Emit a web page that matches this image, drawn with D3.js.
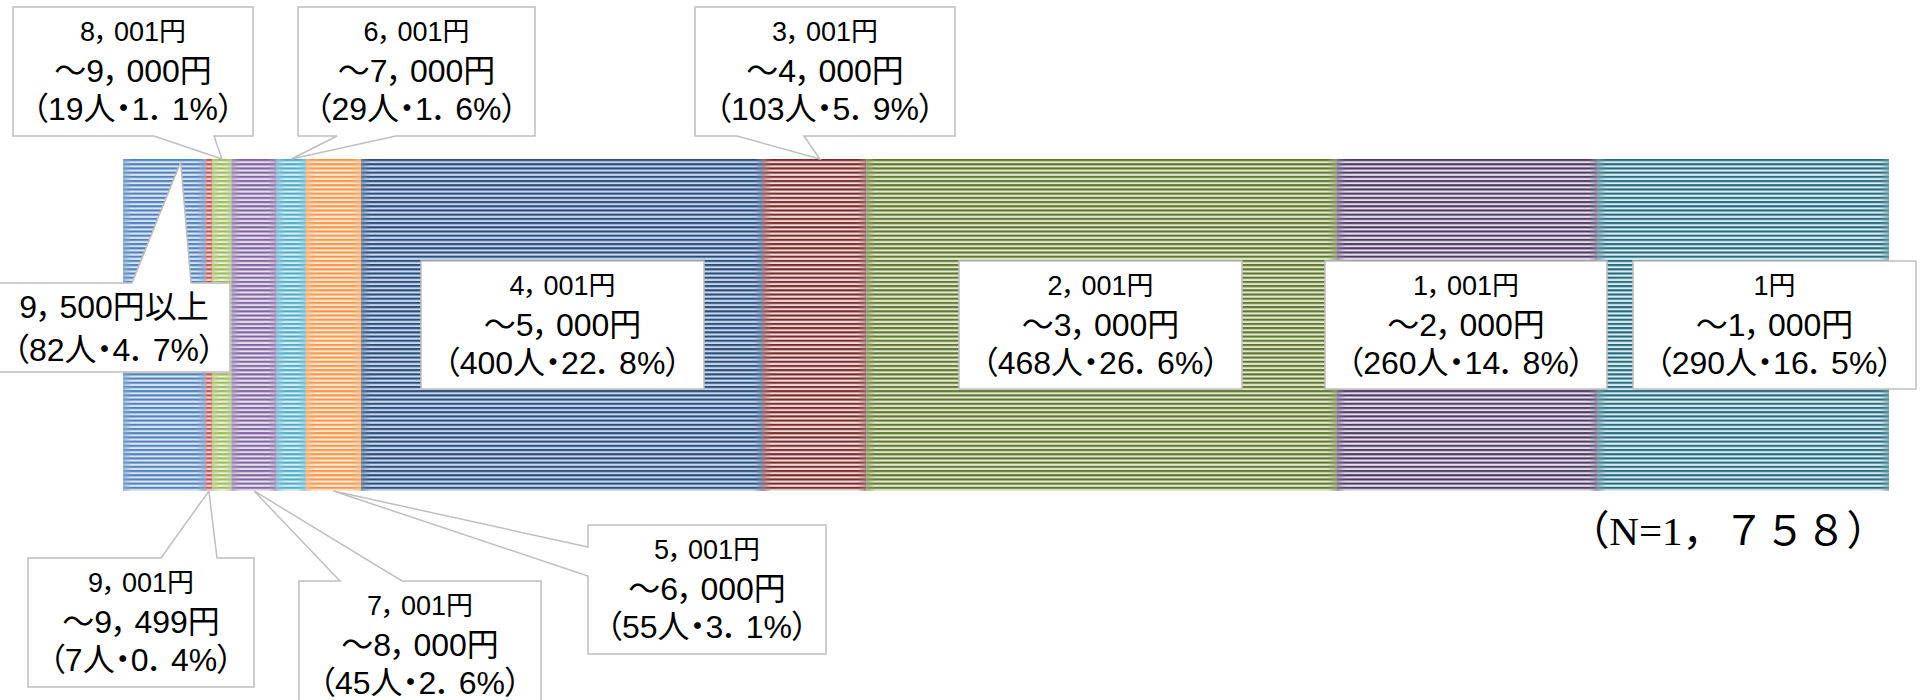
<!DOCTYPE html>
<html>
<head>
<meta charset="utf-8">
<script src="https://cdn.jsdelivr.net/npm/d3@7"></script>
<style>
body { margin: 0; background: #fff; }
svg { display: block; }
.palt { font-feature-settings: "palt" 1; }
</style>
</head>
<body>
<svg></svg>
<script>
// values, left to right
const rangeFrom = ['9，500円以上', '9，001円', '8，001円', '7，001円', '6，001円', '5，001円', '4，001円', '3，001円', '2，001円', '1，001円', '1円']
const rangeTo = [null, '～9，499円', '～9，000円', '～8，000円', '～7，000円', '～6，000円', '～5，000円', '～4，000円', '～3，000円', '～2，000円', '～1，000円']
const counts = [82, 7, 19, 45, 29, 55, 400, 103, 468, 260, 290]
const percents = [4.7, 0.4, 1.1, 2.6, 1.6, 3.1, 22.8, 5.9, 26.6, 14.8, 16.5]
const nLabel = '（N=1，７５８）'

const colors = ['#4F81BD', '#C0504D', '#9BBB59', '#8064A2', '#4BACC6', '#F79646',
                '#2C4D75', '#772C2A', '#5F7530', '#4D3B62', '#276A7C']
const lightColors = ['#DCE6F2', '#F2DCDB', '#EBF1DE', '#E6E0EC', '#DBEEF4', '#FDEADA',
                     '#C6D9F1', '#F2DCDB', '#E2EBCF', '#E6E0EC', '#DBEEF4']

let width = 1929
let height = 700
let barLeft = 123
let barRight = 1889
let barTop = 159
let barBottom = 491
let stripe = (barBottom - barTop) / 79

let svg = d3.select('svg')
            .attr('width', width)
            .attr('height', height)

let xScale = d3.scaleLinear()
               .domain([0, d3.sum(counts)])
               .range([barLeft, barRight])

let starts = [0, ...d3.cumsum(counts)].slice(0, -1)
let segX = (i) => xScale(starts[i])
let segW = (i) => xScale(starts[i] + counts[i]) - xScale(starts[i])

let defs = svg.append('defs')

counts.forEach((c, i) => {
    let p = defs.append('pattern')
                .attr('id', 'stripe' + i)
                .attr('patternUnits', 'userSpaceOnUse')
                .attr('x', 0)
                .attr('y', barTop)
                .attr('width', 10)
                .attr('height', stripe)
    p.append('rect').attr('width', 10).attr('height', stripe).attr('fill', lightColors[i])
    p.append('rect').attr('width', 10).attr('height', stripe * 0.5).attr('fill', colors[i])

    // blurred edges of each segment
    let mid = d3.interpolateRgb(colors[i], lightColors[i])(0.4)
    let e = Math.min(0.35, 9 / segW(i))
    let g = defs.append('linearGradient')
                .attr('id', 'edge' + i)
                .attr('gradientUnits', 'userSpaceOnUse')
                .attr('x1', segX(i)).attr('x2', segX(i) + segW(i))
                .attr('y1', 0).attr('y2', 0)
    g.append('stop').attr('offset', 0).attr('stop-color', mid).attr('stop-opacity', 0.75)
    g.append('stop').attr('offset', e).attr('stop-color', mid).attr('stop-opacity', 0)
    g.append('stop').attr('offset', 1 - e).attr('stop-color', mid).attr('stop-opacity', 0)
    g.append('stop').attr('offset', 1).attr('stop-color', mid).attr('stop-opacity', 0.75)
})

// bar segments
svg.append('g')
   .selectAll('rect')
   .data(counts)
   .enter()
   .append('rect')
   .attr('x', (d, i) => segX(i))
   .attr('y', barTop)
   .attr('width', (d, i) => segW(i))
   .attr('height', barBottom - barTop)
   .attr('fill', (d, i) => 'url(#stripe' + i + ')')

svg.append('g')
   .selectAll('rect')
   .data(counts)
   .enter()
   .append('rect')
   .attr('x', (d, i) => segX(i))
   .attr('y', barTop)
   .attr('width', (d, i) => segW(i))
   .attr('height', barBottom - barTop)
   .attr('fill', (d, i) => 'url(#edge' + i + ')')

// callout boxes (layout only)
const boxes = [
    {i: 0, x: -2, y: 283, w: 232, h: 89, tail: 'top', a: 132, b: 191, at: 0.7},
    {i: 1, x: 28, y: 558, w: 226, h: 129, tail: 'top', a: 161, b: 217},
    {i: 2, x: 13, y: 7, w: 240, h: 129, tail: 'bottom', a: 154, b: 214},
    {i: 3, x: 299, y: 581, w: 242, h: 129, tail: 'top', a: 340, b: 402},
    {i: 4, x: 298, y: 7, w: 237, h: 129, tail: 'bottom', a: 337, b: 396},
    {i: 5, x: 588, y: 525, w: 238, h: 129, tail: 'left', a: 547, b: 576},
    {i: 6, x: 421, y: 261, w: 283, h: 128},
    {i: 7, x: 695, y: 7, w: 260, h: 129, tail: 'bottom', a: 737, b: 804, at: 0.55},
    {i: 8, x: 959, y: 261, w: 283, h: 128},
    {i: 9, x: 1325, y: 261, w: 282, h: 128},
    {i: 10, x: 1633, y: 261, w: 283, h: 128}
]

const calloutPath = (bx) => {
    let x0 = bx.x, y0 = bx.y, x1 = bx.x + bx.w, y1 = bx.y + bx.h
    let ax = xScale(starts[bx.i] + counts[bx.i] * (bx.at || 0.5))
    if (bx.tail === 'bottom') {
        return `M${x0},${y0}H${x1}V${y1}H${bx.b}L${ax},${barTop}L${bx.a},${y1}H${x0}Z`
    }
    if (bx.tail === 'top') {
        let ay = bx.y > barBottom ? barBottom : barTop + 3
        return `M${x0},${y0}H${bx.a}L${ax},${ay}L${bx.b},${y0}H${x1}V${y1}H${x0}Z`
    }
    if (bx.tail === 'left') {
        return `M${x0},${y0}H${x1}V${y1}H${x0}V${bx.b}L${ax},${barBottom}L${x0},${bx.a}Z`
    }
    return `M${x0},${y0}H${x1}V${y1}H${x0}Z`
}

let labels = svg.append('g')
                .selectAll('g')
                .data(boxes)
                .enter()
                .append('g')

labels.append('path')
      .attr('d', calloutPath)
      .attr('fill', '#fff')
      .attr('stroke', '#BFBFBF')
      .attr('stroke-width', 1.5)

const fmtPct = (p) => String(p).replace('.', '．')
const fontFamily = '"Liberation Sans", "Noto Sans CJK JP", sans-serif'

// writes a string into a text element: brackets, dot, comma and period are
// set proportionally, with a small gap after the comma / period
const writeLine = (textSel, str, size) => {
    let run = ''
    let gap = 0
    const flush = (cls) => {
        if (run === '') return
        textSel.append('tspan')
               .attr('class', cls || null)
               .attr('dx', gap ? gap : null)
               .text(run)
        run = ''
        gap = 0
    }
    for (const ch of str) {
        if ('（）・，．'.includes(ch)) {
            flush()
            run = ch
            flush('palt')
            if ('，．'.includes(ch)) gap = 0.2 * size
        } else {
            run += ch
        }
    }
    flush()
}

labels.each(function(bx) {
    let g = d3.select(this)
    let i = bx.i
    let cx = bx.x + bx.w / 2
    let lines
    let pctLine = '（' + counts[i] + '人・' + fmtPct(percents[i]) + '%）'
    if (rangeTo[i] === null) {
        lines = [{t: rangeFrom[i], s: 32, dy: 35}, {t: pctLine, s: 32, dy: 78}]
    } else {
        lines = [{t: rangeFrom[i], s: 27, dy: 34}, {t: rangeTo[i], s: 32, dy: 75}, {t: pctLine, s: 32, dy: 113}]
    }
    lines.forEach((l) => {
        let t = g.append('text')
                 .attr('x', cx)
                 .attr('y', bx.y + l.dy)
                 .attr('text-anchor', 'middle')
                 .attr('font-family', fontFamily)
                 .attr('font-size', l.s)
                 .attr('fill', '#000')
        writeLine(t, l.t, l.s)
    })
})

svg.append('text')
   .attr('x', 1728)
   .attr('y', 545)
   .attr('text-anchor', 'middle')
   .attr('font-family', '"Liberation Serif", "Noto Sans CJK JP", serif')
   .attr('font-size', 41)
   .attr('fill', '#000')
   .text(nLabel)
</script>
</body>
</html>
